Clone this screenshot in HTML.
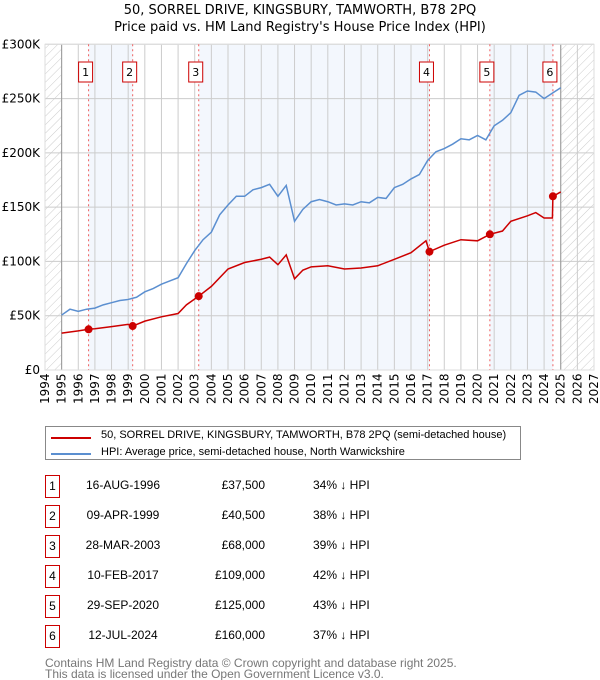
<!DOCTYPE html>
<html><head><meta charset="utf-8"><style>
body{margin:0;background:#fff;font-family:"Liberation Sans","DejaVu Sans",sans-serif;}
.t{position:absolute;font-size:12px;color:#000}
</style></head><body>
<div style="position:relative;width:600px;height:680px;overflow:hidden">
<svg id="svg" width="600" height="415" style="position:absolute;left:0;top:0" font-family="DejaVu Sans, Liberation Sans, sans-serif">
<defs><pattern id="hatch" width="6" height="6" patternUnits="userSpaceOnUse" patternTransform="rotate(45)"><line x1="0" y1="0" x2="0" y2="6" stroke="#ccc" stroke-width="1"/></pattern></defs>
<text x="300" y="14" text-anchor="middle" font-size="13">50, SORREL DRIVE, KINGSBURY, TAMWORTH, B78 2PQ</text>
<text x="300" y="31" text-anchor="middle" font-size="13">Price paid vs. HM Land Registry's House Price Index (HPI)</text>
<g id="g"></g>
</svg>
<div style="position:absolute;left:45px;top:426px;width:476px;height:34px;border:1px solid #888;box-sizing:border-box">
<div style="position:absolute;left:5px;top:10px;width:40px;height:2px;background:#cc0000"></div>
<div class="t" style="left:55px;top:2px;font-size:11px">50, SORREL DRIVE, KINGSBURY, TAMWORTH, B78 2PQ (semi-detached house)</div>
<div style="position:absolute;left:5px;top:26px;width:40px;height:2px;background:#5b8fd0"></div>
<div class="t" style="left:55px;top:19px;font-size:11px">HPI: Average price, semi-detached house, North Warwickshire</div>
</div>
<div id="tbl"></div>
<div class="t" style="left:45px;top:658px;color:#777;line-height:11px">Contains HM Land Registry data © Crown copyright and database right 2025.<br>This data is licensed under the Open Government Licence v3.0.</div>
</div>
<script>
const hpiT=[1995,1995.5,1996,1996.5,1997,1997.5,1998,1998.5,1999,1999.5,2000,2000.5,2001,2001.5,2002,2002.5,2003,2003.5,2004,2004.5,2005,2005.5,2006,2006.5,2007,2007.5,2008,2008.5,2009,2009.5,2010,2010.5,2011,2011.5,2012,2012.5,2013,2013.5,2014,2014.5,2015,2015.5,2016,2016.5,2017,2017.5,2018,2018.5,2019,2019.5,2020,2020.5,2021,2021.5,2022,2022.5,2023,2023.5,2024,2024.5,2025];
const hpiV=[50.6,56,54,56,57,60,62,64,65,67,72,75,79,82,85,98,110,120,127,143,152,160,160,166,168,171,160,170,137,148,155,157,155,152,153,152,155,154,159,158,168,171,176,180,193,201,204,208,213,212,216,212,225,230,237,253,257,256,250,255,260];
const ppT=[1995,1996,1996.62,1997,1998,1999,1999.27,2000,2001,2002,2002.5,2003.24,2004,2005,2006,2007,2007.5,2008,2008.5,2009,2009.5,2010,2011,2012,2013,2014,2015,2016,2016.9,2017.11,2018,2019,2020,2020.74,2021.5,2022,2023,2023.5,2024,2024.5,2024.53,2025];
const ppV=[34,36,37.5,38,40,42,40.5,45,49,52,60,68,77,93,99,102,104,97,106,84,92,95,96,93,94,96,102,108,119,109,115,120,119,125,128,137,142,145,140,140,160,164];
const saleT=[1996.62,1999.27,2003.24,2017.11,2020.74,2024.53];
const saleV=[37.5,40.5,68,109,125,160];
const saleDates=["16-AUG-1996","09-APR-1999","28-MAR-2003","10-FEB-2017","29-SEP-2020","12-JUL-2024"];
const salePrices=["£37,500","£40,500","£68,000","£109,000","£125,000","£160,000"];
const saleHpi=["34% ↓ HPI","38% ↓ HPI","39% ↓ HPI","42% ↓ HPI","43% ↓ HPI","37% ↓ HPI"];
const yTicks=[0,50,100,150,200,250,300];
const yLabels=["£0","£50K","£100K","£150K","£200K","£250K","£300K"];
const X0=45,X1=594,Y0=370,Y1=44.3;
const x=t=>X0+(t-1994)*(X1-X0)/33, y=v=>Y0-v*(Y0-Y1)/300;
const g=document.getElementById('g'),NS='http://www.w3.org/2000/svg';
function el(tag,a,p){const e=document.createElementNS(NS,tag);for(const k in a)e.setAttribute(k,a[k]);(p||g).appendChild(e);return e;}
// shading bands
for(let i=0;i<6;i+=2){const r=el('rect',{x:x(saleT[i]),y:Y1,width:x(saleT[i+1])-x(saleT[i]),height:Y0-Y1,fill:'#eef3fc',opacity:0.7});
}
let h1=el('rect',{x:X0,y:Y1,width:x(1995)-X0,height:Y0-Y1,fill:'url(#hatch)'});

let h2=el('rect',{x:x(2025),y:Y1,width:X1-x(2025),height:Y0-Y1,fill:'url(#hatch)'});

for(let yr=1994;yr<=2027;yr++){const l=el('line',{x1:x(yr),x2:x(yr),y1:Y1,y2:Y0,stroke:'#ccc'});

const t=el('text',{x:0,y:0,transform:`translate(${x(yr)+4},${Y0+34}) rotate(-90)`,'font-size':12});t.textContent=yr;
}
yTicks.forEach((v,i)=>{const l=el('line',{x1:X0,x2:X1,y1:y(v),y2:y(v),stroke:'#ccc'});

const t=el('text',{x:40,y:y(v)+4,'text-anchor':'end','font-size':12});t.textContent=yLabels[i];
});
[1995,2025].forEach(yr=>{const l=el('line',{x1:x(yr),x2:x(yr),y1:Y1,y2:Y0,stroke:'#999'});});
const fr=el('rect',{x:X0,y:Y1,width:X1-X0,height:Y0-Y1,fill:'none',stroke:'#ddd'});
saleT.forEach((t,i)=>{const l=el('line',{x1:x(t),x2:x(t),y1:Y1,y2:Y0,stroke:'#f06060','stroke-dasharray':'2,3'});

const b=el('rect',{x:x(t)-10,y:62,width:14,height:20,fill:'#fff',stroke:'#cc0000'});

const tx=el('text',{x:x(t)-3,y:76,'text-anchor':'middle','font-size':11});tx.textContent=i+1;
});
const hp=el('polyline',{points:hpiT.map((t,i)=>x(t)+','+y(hpiV[i])).join(' '),fill:'none',stroke:'#5b8fd0','stroke-width':1.5});

const pp=el('polyline',{points:ppT.map((t,i)=>x(t)+','+y(ppV[i])).join(' '),fill:'none',stroke:'#cc0000','stroke-width':1.5});

saleT.forEach((t,i)=>{const c=el('circle',{cx:x(t),cy:y(saleV[i]),r:4,fill:'#cc0000'});
});
const tb=document.getElementById('tbl');
saleDates.forEach((d,i)=>{const top=475+i*30;
const r=document.createElement('div');r.style.cssText=`position:absolute;left:0;top:${top}px;width:600px;height:22px`;

r.innerHTML=`<div style="position:absolute;left:45px;top:0;width:13px;height:21px;border:1px solid #cc0000;font-size:12px;text-align:center;line-height:20px">${i+1}</div>
<div class="t" style="left:60px;width:126px;text-align:center;top:3px">${d}</div>
<div class="t" style="left:180px;width:85px;text-align:right;top:3px">${salePrices[i]}</div>
<div class="t" style="left:313px;top:3px">${saleHpi[i]}</div>`;
tb.appendChild(r);});
</script>
</body></html>
